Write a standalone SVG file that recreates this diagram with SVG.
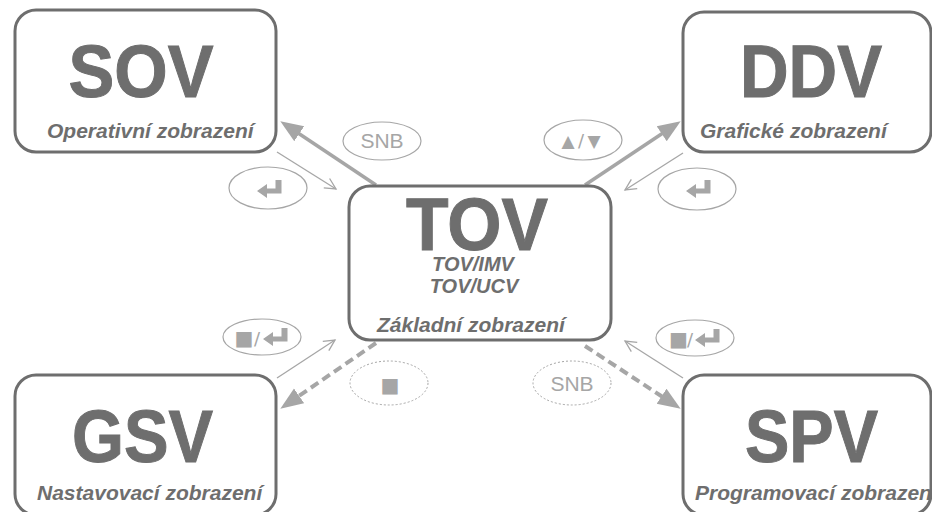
<svg xmlns="http://www.w3.org/2000/svg" width="932" height="512" viewBox="0 0 932 512">
<style>
.box{fill:#fff;stroke:#6e6e6e;stroke-width:3}
.big{font-family:"Liberation Sans",Arial,sans-serif;font-weight:bold;font-size:74px;fill:#6e6e6e;stroke:#6e6e6e;stroke-width:1;text-anchor:middle}
.sub{font-family:"Liberation Sans",Arial,sans-serif;font-weight:bold;font-style:italic;font-size:21px;fill:#6e6e6e}
.mid{font-family:"Liberation Sans",Arial,sans-serif;font-weight:bold;font-style:italic;font-size:20px;fill:#6e6e6e;text-anchor:middle}
.thick{stroke:#a6a6a6;stroke-width:3.5;fill:none}
.dash{stroke:#a6a6a6;stroke-width:4;fill:none;stroke-dasharray:9 5}
.thin{stroke:#a6a6a6;stroke-width:1.3;fill:none}
.ell{fill:#fff;stroke:#a6a6a6;stroke-width:1.2}
.dot{fill:#fff;stroke:#a6a6a6;stroke-width:1;stroke-dasharray:2 2}
.lbl{font-family:"Liberation Sans",Arial,sans-serif;font-size:21px;fill:#a6a6a6;text-anchor:middle}
.sym{font-family:"DejaVu Sans",sans-serif;fill:#a6a6a6;text-anchor:middle}
.icon{fill:#a6a6a6}
</style>
<defs>
<marker id="head" markerUnits="userSpaceOnUse" markerWidth="24" markerHeight="20" viewBox="0 -8 20 16" refX="8" refY="0" orient="auto">
<path d="M0,-7.5 L19,0 L0,7.5 Z" fill="#a6a6a6"/>
</marker>
<marker id="open" markerUnits="userSpaceOnUse" markerWidth="16" markerHeight="16" viewBox="-13 -8 14 16" refX="0" refY="0" orient="auto">
<path d="M-11,-5.5 L0,0 L-11,5.5" fill="none" stroke="#a6a6a6" stroke-width="1.3"/>
</marker>
<path id="enter" class="icon" d="M0,0 L10,-7 L10,-2.5 L18.5,-2.5 L18.5,-11 L24.5,-11 L24.5,2.5 L10,2.5 L10,7 Z"/>
</defs>
<rect width="932" height="512" fill="#fff"/>
<g id="connectors">
<line class="thick" x1="376" y1="185" x2="291.3" y2="128.5" marker-end="url(#head)"/>
<line class="thin" x1="277" y1="152" x2="336" y2="189" marker-end="url(#open)"/>
<line class="thick" x1="585" y1="185" x2="669.7" y2="128.5" marker-end="url(#head)"/>
<line class="thin" x1="683" y1="153" x2="625" y2="190" marker-end="url(#open)"/>
<line class="dash" x1="376" y1="343" x2="291.2" y2="401.3" marker-end="url(#head)"/>
<line class="thin" x1="277" y1="378" x2="335" y2="340" marker-end="url(#open)"/>
<line class="dash" x1="585" y1="346" x2="669.6" y2="401.5" marker-end="url(#head)"/>
<line class="thin" x1="683" y1="378" x2="625" y2="341" marker-end="url(#open)"/>
<g id="lbl-snb-top"><ellipse class="ell" cx="382" cy="141" rx="39" ry="19"/><text class="lbl" x="382" y="148">SNB</text></g>
<g id="lbl-enter-left"><ellipse class="ell" cx="268" cy="188" rx="39" ry="21"/><use href="#enter" x="257" y="191"/></g>
<g id="lbl-updown"><ellipse class="ell" cx="583" cy="140" rx="39" ry="20"/>
<text class="sym" x="568" y="147" font-size="17">▲</text><text class="sym" x="581" y="147" font-size="18">/</text><text class="sym" x="594" y="147" font-size="17">▼</text></g>
<g id="lbl-enter-right"><ellipse class="ell" cx="697" cy="189" rx="39" ry="21"/><use href="#enter" x="686" y="191"/></g>
<g id="lbl-stop-enter-left"><ellipse class="ell" cx="262" cy="337" rx="39" ry="18"/>
<text class="sym" x="244" y="345" font-size="20">■</text><text class="sym" x="257" y="345" font-size="18">/</text><use href="#enter" x="263" y="339"/></g>
<g id="lbl-stop"><ellipse class="dot" cx="389" cy="383" rx="39" ry="22"/><text class="sym" x="390" y="392" font-size="20">■</text></g>
<g id="lbl-stop-enter-right"><ellipse class="ell" cx="695" cy="338" rx="39" ry="18"/>
<text class="sym" x="678.5" y="346" font-size="20">■</text><text class="sym" x="690" y="346" font-size="18">/</text><use href="#enter" x="695" y="340"/></g>
<g id="lbl-snb-bottom"><ellipse class="dot" cx="572" cy="383" rx="39" ry="22"/><text class="lbl" x="572" y="391">SNB</text></g>
</g>
<g id="node-sov">
<rect class="box" x="15" y="10" width="261" height="142" rx="21"/>
<text class="big" x="141" y="97" textLength="145" lengthAdjust="spacingAndGlyphs">SOV</text>
<text class="sub" x="47" y="138">Operativní zobrazení</text>
</g>
<g id="node-ddv">
<rect class="box" x="683" y="12" width="248" height="140" rx="21"/>
<text class="big" x="811" y="97" textLength="142" lengthAdjust="spacingAndGlyphs">DDV</text>
<text class="sub" x="700" y="138">Grafické zobrazení</text>
</g>
<g id="node-tov">
<rect class="box" x="349" y="186" width="262" height="154" rx="21"/>
<text class="big" x="477" y="250" textLength="142" lengthAdjust="spacingAndGlyphs">TOV</text>
<text class="mid" x="473" y="271">TOV/IMV</text>
<text class="mid" x="474" y="293">TOV/UCV</text>
<text class="sub" x="377" y="332">Základní zobrazení</text>
</g>
<g id="node-gsv">
<rect class="box" x="15" y="375" width="261" height="140" rx="21"/>
<text class="big" x="142.5" y="462" textLength="141" lengthAdjust="spacingAndGlyphs">GSV</text>
<text class="sub" x="37" y="500">Nastavovací zobrazení</text>
</g>
<g id="node-spv">
<rect class="box" x="683" y="375" width="248" height="140" rx="21"/>
<text class="big" x="811.5" y="462" textLength="133" lengthAdjust="spacingAndGlyphs">SPV</text>
<text class="sub" x="695" y="500">Programovací zobrazení</text>
</g>
</svg>
